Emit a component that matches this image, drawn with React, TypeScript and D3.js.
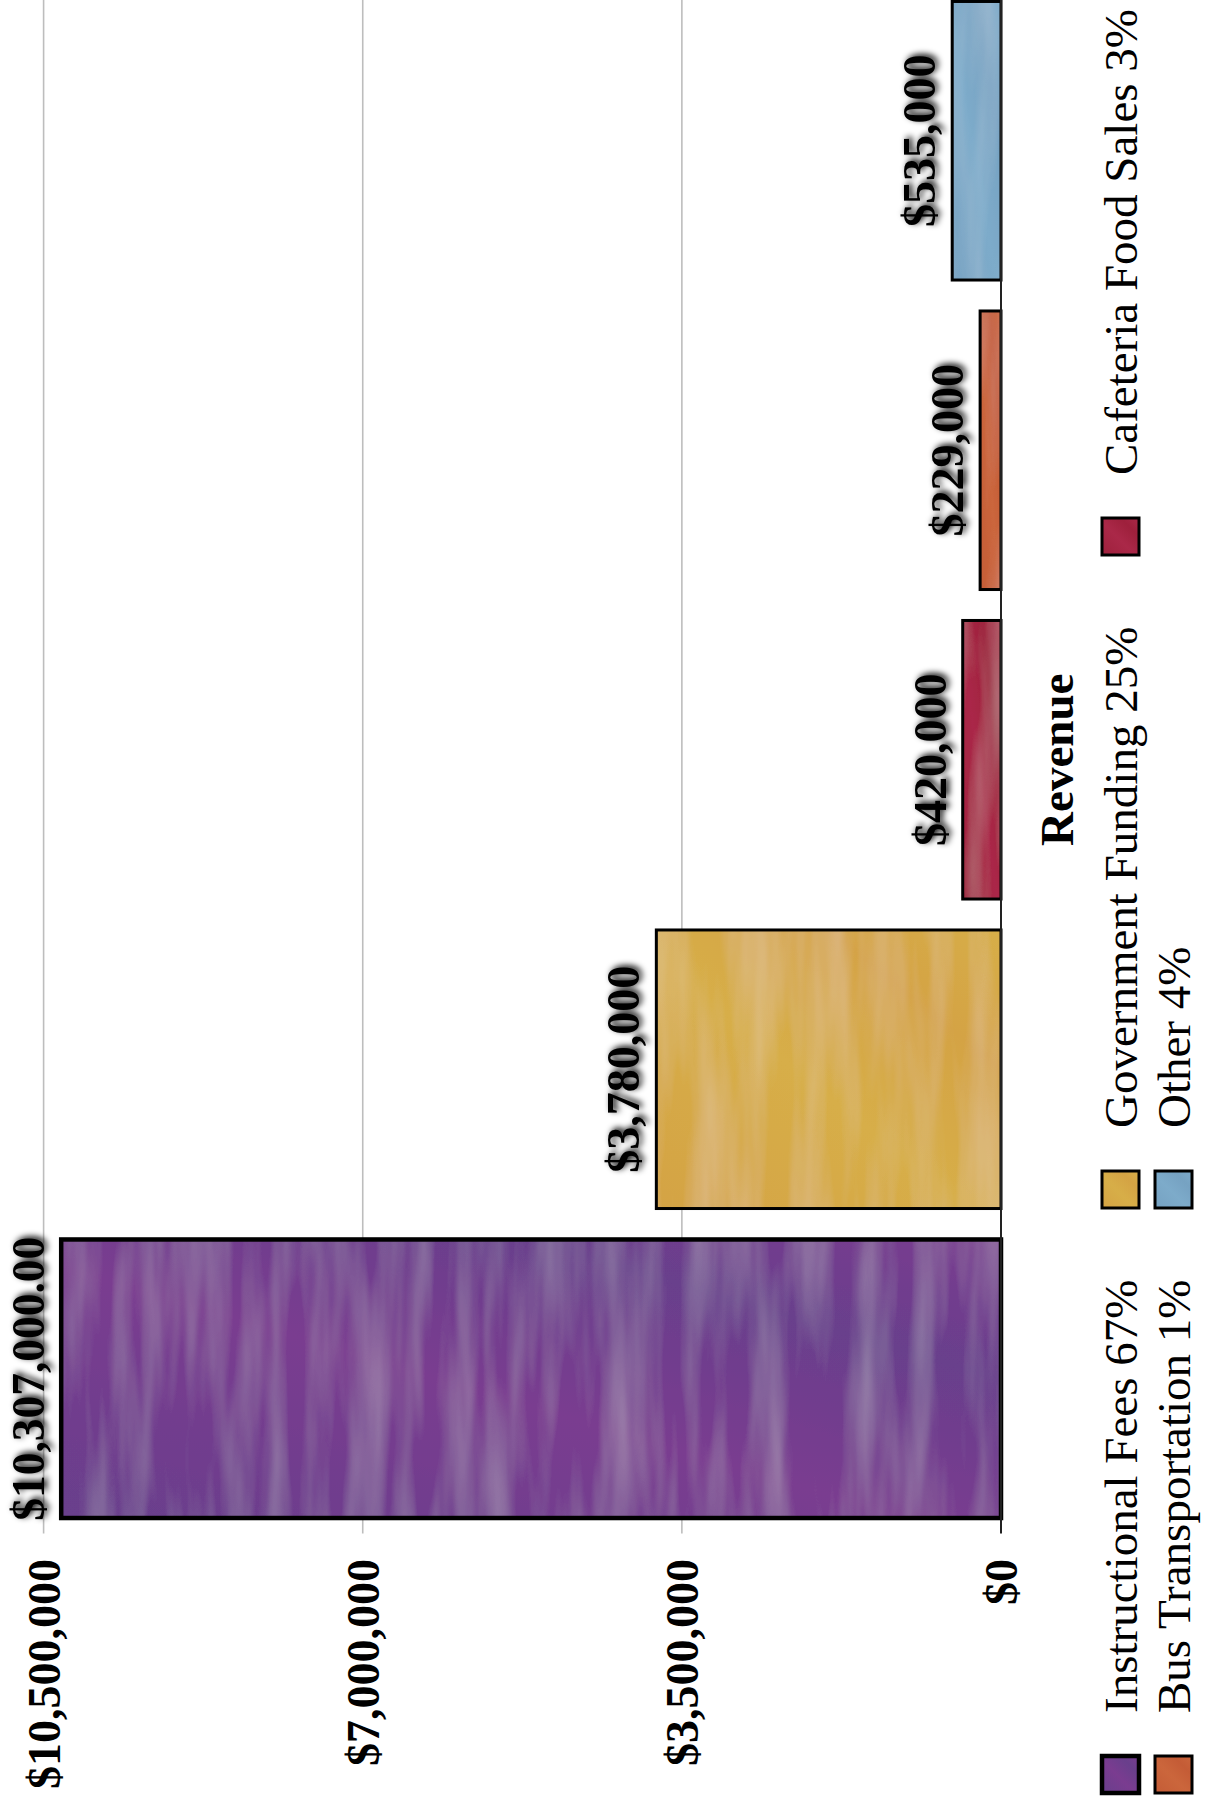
import React from "react";
import * as d3 from "d3";

const categories = ["Instructional Fees", "Government Funding", "Cafeteria Food Sales", "Bus Transportation", "Other"];
const values = [10307000, 3780000, 420000, 229000, 535000];
const valueLabels = ["$10,307,000.00", "$3,780,000", "$420,000", "$229,000", "$535,000"];
const percents = [67, 25, 3, 1, 4];
const colorsA = ["#693f8c", "#d4a344", "#9e203c", "#c45c36", "#76a2c2"];
const colorsB = ["#7a3c90", "#d7ae48", "#aa2848", "#cb663c", "#7dabca"];
const strokeWidths = [4.5, 3, 3, 3, 3];
const tickValues = [0, 3500000, 7000000, 10500000];
const axisTitle = "Revenue";

// landscape layout (drawn then rotated -90deg)
const PAGE_W = 1209;
const PAGE_H = 1801;
const FONT = "'Liberation Serif', 'Times New Roman', Times, serif";

const estEm = (s: string) =>
  s.split("").reduce((a, c) => a + (/[0-9$]/.test(c) ? 0.5 : 0.25), 0);

export default function App() {
  const x = d3
    .scaleBand<string>()
    .domain(categories)
    .range([267.5, 1815])
    .paddingInner(0.1)
    .paddingOuter(0.05);
  const y = d3.scaleLinear().domain([0, 10500000]).range([1001, 43.6]);
  const fmt = d3.format("$,");
  const bw = x.bandwidth();

  const legendCols = [8, 593, 1246];
  const legendRows = [1102, 1155];
  const sw = 37;

  return (
    <svg
      width={PAGE_W}
      height={PAGE_H}
      style={{ position: "absolute", left: 0, top: 0, background: "#fff" }}
    >
      <defs>
        {categories.map((c, i) => (
          <linearGradient key={c} id={`g${i}`} x1="0" y1="0" x2="1" y2="1">
            <stop offset="0%" stopColor={colorsA[i]} />
            <stop offset="45%" stopColor={colorsB[i]} />
            <stop offset="75%" stopColor={colorsA[i]} />
            <stop offset="100%" stopColor={colorsB[i]} />
          </linearGradient>
        ))}
        <filter id="paint" x="0" y="0" width="1" height="1">
          <feTurbulence type="fractalNoise" baseFrequency="0.004 0.035" numOctaves="3" seed="7" result="n" />
          <feColorMatrix
            in="n"
            type="matrix"
            values="0 0 0 0 1  0 0 0 0 1  0 0 0 0 1  0.28 0 0 0 -0.1"
            result="hl"
          />
          <feComposite in="hl" in2="SourceGraphic" operator="in" result="hlc" />
          <feMerge>
            <feMergeNode in="SourceGraphic" />
            <feMergeNode in="hlc" />
          </feMerge>
        </filter>
        <filter id="glow" x="-20%" y="-40%" width="140%" height="180%">
          <feGaussianBlur in="SourceAlpha" stdDeviation="3.2" result="b" />
          <feOffset in="b" dx="2" dy="3" result="o" />
          <feComponentTransfer in="o" result="oa">
            <feFuncA type="linear" slope="1" />
          </feComponentTransfer>
          <feMerge>
            <feMergeNode in="oa" />
            <feMergeNode in="SourceGraphic" />
          </feMerge>
        </filter>
      </defs>
      <g transform={`translate(0,${PAGE_H}) rotate(-90)`}>
        {/* gridlines */}
        {tickValues
          .filter((t) => t !== 0)
          .map((t) => (
            <line
              key={t}
              x1={x.range()[0]}
              x2={PAGE_H + 20}
              y1={y(t)}
              y2={y(t)}
              stroke="#bdbdbd"
              strokeWidth={1.6}
            />
          ))}
        {/* tick labels */}
        {tickValues.map((t) => (
          <text
            key={t}
            x={242}
            y={y(t)}
            dy="0.35em"
            textAnchor="end"
            fontFamily={FONT}
            fontWeight="bold"
            fontSize={46}
            fill="#000"
          >
            {fmt(t)}
          </text>
        ))}
        {/* bars */}
        {categories.map((c, i) => (
          <g key={c}>
            <rect
              x={x(c)}
              y={y(values[i])}
              width={bw}
              height={y(0) - y(values[i])}
              fill={`url(#g${i})`}
              filter="url(#paint)"
            />
            <rect
              x={x(c)}
              y={y(values[i])}
              width={bw}
              height={y(0) - y(values[i])}
              fill="none"
              stroke="#000"
              strokeWidth={strokeWidths[i]}
            />
          </g>
        ))}
        {/* zero line */}
        <line
          x1={x.range()[0]}
          x2={PAGE_H + 20}
          y1={y(0)}
          y2={y(0)}
          stroke="#222"
          strokeWidth={2}
        />
        {/* value labels */}
        {categories.map((c, i) => {
          const fs = Math.min(46, (bw * 1.02) / estEm(valueLabels[i]));
          return (
            <text
              key={c}
              x={(x(c) as number) + bw / 2}
              y={y(values[i]) - 17}
              textAnchor="middle"
              fontFamily={FONT}
              fontWeight="bold"
              fontSize={fs}
              fill="#000"
              filter="url(#glow)"
            >
              {valueLabels[i]}
            </text>
          );
        })}
        {/* axis title */}
        <text
          x={((x.range()[0] as number) + (x.range()[1] as number)) / 2}
          y={1073}
          textAnchor="middle"
          fontFamily={FONT}
          fontWeight="bold"
          fontSize={47}
          fill="#000"
        >
          {axisTitle}
        </text>
        {/* legend */}
        {categories.map((c, i) => {
          const col = i % 3;
          const row = Math.floor(i / 3);
          const lx = legendCols[col];
          const ly = legendRows[row];
          return (
            <g key={c}>
              <rect
                x={lx}
                y={ly}
                width={sw}
                height={sw}
                fill={`url(#g${i})`}
                stroke="#000"
                strokeWidth={strokeWidths[i]}
              />
              <text
                x={lx + 80}
                y={ly + 35}
                fontFamily={FONT}
                fontSize={47}
                fill="#000"
              >
                {`${c} ${percents[i]}%`}
              </text>
            </g>
          );
        })}
      </g>
    </svg>
  );
}
